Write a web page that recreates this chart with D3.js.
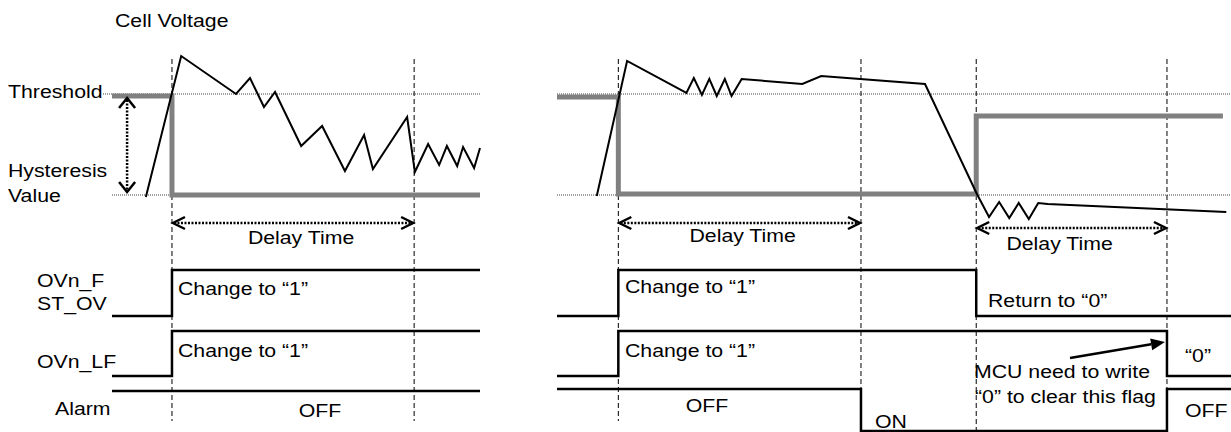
<!DOCTYPE html>
<html><head><meta charset="utf-8">
<script src="https://cdn.jsdelivr.net/npm/d3@7"></script>
<style>
body{margin:0;background:#fff}
svg{display:block}
text{font-family:'Liberation Sans',Arial,sans-serif;font-size:18.5px;fill:#000}
</style>
</head><body>
<svg id="c" width="1231" height="432"></svg>
<script>
// ---------------- DATA ----------------
// Left panel (time units 0..100, voltage units: hysteresis=0, threshold=100)
const leftTime = [9.2,18.8,33.7,37.5,41.3,44.3,51.4,57.1,63.3,68.5,70.9,80.2,82.3,85.9,88.9,91.0,93.8,95.4,98.4,100];
const leftVolt = [-2,137.6,100,115.8,87.1,102,48.5,68.3,23.8,59.4,25.7,77.2,22.8,50.5,29.7,48.5,28.7,47.5,26.7,46.5];
const leftBandT = [0,16.3,100];
const leftBandV = [98,0,0];
const leftMarkers = [16.3,82.1];
const leftFlagT = [0,16.3,100];
const leftFlagF = [0,1,1];
const leftFlagLF = [0,1,1];
const leftAlarmT = [0,100];
const leftAlarm = [1,1];
const leftDelay = [[16.3,82.1]];
const hystArrow = [4.1, 96, 3];

// Right panel
const rightTime = [5.9,10.4,19.2,20.3,21.5,22.6,23.7,24.9,25.9,27.4,36.4,39.2,54.6,62.3,64.1,65.6,67.1,68.5,70.0,71.4,72.8,99.3];
const rightVolt = [-1,132.7,101,115.8,99,114.9,98,114.9,98,114.9,109.9,117.8,109.9,1,-21.8,-6.9,-22.8,-7.9,-23.8,-7.9,-8.9,-16.8];
const rightBandT = [0,9.1,62.2,98.8];
const rightBandV = [97,1,78.2,78.2];
const rightMarkers = [9.1,45.1,62.2,90.5];
const rightFlagFT = [0,9.1,62.2,100];
const rightFlagF = [0,1,0,0];
const rightFlagLFT = [0,9.1,90.5,100];
const rightFlagLF = [0,1,0,0];
const rightAlarmT = [0,45.1,90.5,100];
const rightAlarm = [1,0,1,1];
const rightDelay = [[9.1,45.1],[62.2,90.5]];

const signalNames = ["OVn_F","ST_OV","OVn_LF","Alarm"];
const levelNames = ["Threshold","Hysteresis","Value"];
const title = "Cell Voltage";
const delayLabel = "Delay Time";
const change1 = "Change to \u201C1\u201D";
const return0 = "Return to \u201C0\u201D";
const zeroLabel = "\u201C0\u201D";
const mcuNote = ["MCU need to write","\u201C0\u201D to clear this flag"];
const offLabel = "OFF", onLabel = "ON";

// ---------------- LAYOUT ----------------
const svg = d3.select("#c");
const SX = 1.15;
const xL = d3.scaleLinear().domain([0,100]).range([112,480]);
const xR = d3.scaleLinear().domain([0,100]).range([557,1231]);
const yV = d3.scaleLinear().domain([0,100]).range([195,94]);

function label(x,y,t,anchor){
  svg.append("text").attr("transform",`translate(${x},${y}) scale(${SX},1)`)
    .attr("text-anchor",anchor||"start").text(t);
}
function zip(a,b){return a.map((d,i)=>[d,b[i]]);}

function panel(x, o){
  svg.append("line").attr("x1",o.thrX0).attr("x2",x.range()[1]).attr("y1",yV(100)).attr("y2",yV(100))
    .attr("stroke","#444").attr("stroke-width",1).attr("stroke-dasharray","1,1");
  svg.append("line").attr("x1",x.range()[0]).attr("x2",x.range()[1]).attr("y1",yV(0)).attr("y2",yV(0))
    .attr("stroke","#444").attr("stroke-width",1).attr("stroke-dasharray","1,1");
  o.markers.forEach((m,i)=>{
    svg.append("line").attr("x1",x(m)).attr("x2",x(m)).attr("y1",59).attr("y2",o.markerBottom[i])
      .attr("stroke","#000").attr("stroke-width",1).attr("stroke-dasharray","5,3");
  });
  svg.append("path").datum(zip(o.bandT,o.bandV))
    .attr("d",d3.line().x(d=>x(d[0])).y(d=>yV(d[1])).curve(d3.curveStepAfter))
    .attr("fill","none").attr("stroke","#808080").attr("stroke-width",5);
  svg.append("path").datum(zip(o.vt,o.vv))
    .attr("d",d3.line().x(d=>x(d[0])).y(d=>yV(d[1])))
    .attr("fill","none").attr("stroke","#000").attr("stroke-width",2).attr("stroke-linejoin","miter");
  o.delays.forEach((d,i)=>{
    const y=o.delayY[i], a=x(d[0]), b=x(d[1]);
    svg.append("line").attr("x1",a+2).attr("x2",b-2).attr("y1",y).attr("y2",y)
      .attr("stroke","#000").attr("stroke-width",2.5).attr("stroke-dasharray","2,1.5");
    svg.append("path").attr("d",`M${a+13},${y-6}L${a+1},${y}L${a+13},${y+6}`).attr("fill","none").attr("stroke","#000").attr("stroke-width",2.5);
    svg.append("path").attr("d",`M${b-13},${y-6}L${b-1},${y}L${b-13},${y+6}`).attr("fill","none").attr("stroke","#000").attr("stroke-width",2.5);
    label((a+b)/2+o.delayDx[i], y+o.delayLy[i], delayLabel, "middle");
  });
  o.rows.forEach(r=>{
    svg.append("path").datum(zip(r.t,r.v))
      .attr("d",d3.line().x(d=>x(d[0])).y(d=>r.lo+(r.hi-r.lo)*d[1]).curve(d3.curveStepAfter))
      .attr("fill","none").attr("stroke","#000").attr("stroke-width",2.5);
  });
}

panel(xL,{thrX0:103,markers:leftMarkers,markerBottom:[421,421],bandT:leftBandT,bandV:leftBandV,
  vt:leftTime,vv:leftVolt,delays:leftDelay,delayY:[223],delayDx:[8],delayLy:[21],
  rows:[{t:leftFlagT,v:leftFlagF,hi:270,lo:316},{t:leftFlagT,v:leftFlagLF,hi:331,lo:376},{t:leftAlarmT,v:leftAlarm,hi:391,lo:431}]});
panel(xR,{thrX0:557,markers:rightMarkers,markerBottom:[421,431,432,431],bandT:rightBandT,bandV:rightBandV,
  vt:rightTime,vv:rightVolt,delays:rightDelay,delayY:[223,228],delayDx:[3,-12],delayLy:[19,22],
  rows:[{t:rightFlagFT,v:rightFlagF,hi:270,lo:316},{t:rightFlagLFT,v:rightFlagLF,hi:331,lo:376},{t:rightAlarmT,v:rightAlarm,hi:389,lo:431}]});

// hysteresis vertical arrow
{
  const ax = xL(hystArrow[0]), y1 = yV(hystArrow[1]), y2 = yV(hystArrow[2]);
  svg.append("line").attr("x1",ax).attr("x2",ax).attr("y1",y1+2).attr("y2",y2-2)
    .attr("stroke","#000").attr("stroke-width",2.5).attr("stroke-dasharray","2,1.5");
  svg.append("path").attr("d",`M${ax-8},${y1+10}L${ax},${y1}L${ax+8},${y1+10}`).attr("fill","none").attr("stroke","#000").attr("stroke-width",2.5);
  svg.append("path").attr("d",`M${ax-8},${y2-10}L${ax},${y2}L${ax+8},${y2-10}`).attr("fill","none").attr("stroke","#000").attr("stroke-width",2.5);
}

// MCU arrow
{
  const x1=1070,y1=358,x2=1165,y2=342;
  const ang=Math.atan2(y2-y1,x2-x1), L=14, W=6;
  const bx=x2-L*Math.cos(ang), by=y2-L*Math.sin(ang);
  svg.append("line").attr("x1",x1).attr("y1",y1).attr("x2",bx).attr("y2",by).attr("stroke","#000").attr("stroke-width",2.5);
  svg.append("path").attr("d",`M${x2},${y2}L${bx-W*Math.sin(ang)},${by+W*Math.cos(ang)}L${bx+W*Math.sin(ang)},${by-W*Math.cos(ang)}Z`).attr("fill","#000");
}

// texts
label(115,27,title);
label(8,98,levelNames[0]);
label(8,177,levelNames[1]);
label(8,202,levelNames[2]);
label(37,287,signalNames[0]);
label(37,310,signalNames[1]);
label(37,368,signalNames[2]);
label(55,415,signalNames[3]);
label(178,295,change1);
label(178,357,change1);
label(320,417,offLabel,"middle");
label(625,293,change1);
label(625,357,change1);
label(707,412,offLabel,"middle");
label(875,428,onLabel);
label(988,307,return0);
label(1185,362,zeroLabel);
label(974,378,mcuNote[0]);
label(975,403,mcuNote[1]);
label(1185,417,offLabel);
</script>
</body></html>
